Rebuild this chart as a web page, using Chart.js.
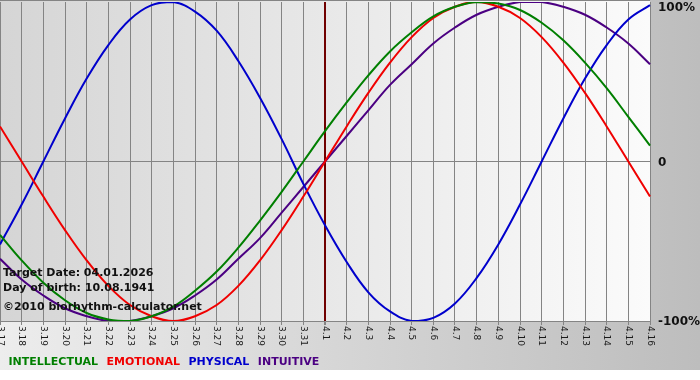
<!DOCTYPE html>
<html>
<head>
<meta charset="utf-8">
<title>Biorhythm</title>
<script src="https://cdn.jsdelivr.net/npm/chart.js"></script>
<style>
  html, body { margin: 0; padding: 0; background: #fff; }
  canvas { display: block; }
</style>
</head>
<body>
<canvas id="chart" width="700" height="380"></canvas>
<script>
const days = ["3.17", "3.18", "3.19", "3.20", "3.21", "3.22", "3.23", "3.24", "3.25", "3.26",
  "3.27", "3.28", "3.29", "3.30", "3.31", "4.1", "4.2", "4.3", "4.4", "4.5", "4.6", "4.7",
  "4.8", "4.9", "4.10", "4.11", "4.12", "4.13", "4.14", "4.15", "4.16"];

const intellectual = [-46, -62, -76, -87, -95, -99, -100, -97, -91, -81, -69, -54, -37, -19, 0,
  19, 37, 54, 69, 81, 91, 97, 100, 99, 95, 87, 76, 62, 46, 28, 10];
const emotional = [22, 0, -22, -43, -62, -78, -90, -97, -100, -97, -90, -78, -62, -43, -22,
  0, 22, 43, 62, 78, 90, 97, 100, 97, 90, 78, 62, 43, 22, 0, -22];
const physical = [-52, -27, 0, 27, 52, 73, 89, 98, 100, 94, 82, 63, 40, 14, -14,
  -40, -63, -82, -94, -100, -98, -89, -73, -52, -27, 0, 27, 52, 73, 89, 98];
const intuitive = [-61, -74, -84, -92, -97, -100, -100, -97, -92, -84, -74, -61, -48, -32, -16,
  0, 16, 32, 48, 61, 74, 84, 92, 97, 100, 100, 97, 92, 84, 74, 61];

const yTicks = [-100, 0, 100];
const yTickLabels = ["-100%", "0", "100%"];
const todayLabel = "4.1";
const targetDate = "04.01.2026";
const birthDate = "10.08.1941";

const font = "'DejaVu Sans', Verdana, sans-serif";
const gridGray = "#848484";

// backgrounds, rotated day labels, y labels and the corner texts
const decor = {
  id: "decor",
  beforeDraw(chart) {
    const { ctx, chartArea: a, width, height } = chart;
    ctx.save();
    ctx.fillStyle = "#fff";
    ctx.fillRect(0, 0, width, height);

    let g = ctx.createLinearGradient(0, 0, width, 0);
    g.addColorStop(0, "#ededed");
    g.addColorStop(1, "#bdbdbd");
    ctx.fillStyle = g;
    ctx.fillRect(0, 0, width, 370);

    g = ctx.createLinearGradient(a.left, 0, a.right, 0);
    g.addColorStop(0, "#d5d5d5");
    g.addColorStop(1, "#fbfbfb");
    ctx.fillStyle = g;
    ctx.fillRect(a.left, 0, a.right - a.left, a.bottom);

    ctx.strokeStyle = gridGray;
    ctx.beginPath();
    ctx.moveTo(a.left, 0.5);
    ctx.lineTo(a.right, 0.5);
    ctx.stroke();
    ctx.restore();
  },
  afterDraw(chart) {
    const { ctx, chartArea: a } = chart;
    const xs = chart.scales.x;
    const ys = chart.scales.y;
    ctx.save();

    ctx.font = "9px " + font;
    ctx.fillStyle = "#1a1a1a";
    ctx.textAlign = "left";
    ctx.textBaseline = "middle";
    days.forEach((d, i) => {
      ctx.save();
      ctx.translate(xs.getPixelForTick(i), xs.top + 5);
      ctx.rotate(Math.PI / 2);
      ctx.fillText(d, 0, 0);
      ctx.restore();
    });

    ctx.font = "bold 12px " + font;
    ctx.fillStyle = "#111";
    yTicks.forEach((v, i) => {
      const y = Math.max(ys.getPixelForValue(v), 7);
      ctx.fillText(yTickLabels[i], a.right + 8, y + 1);
    });

    ctx.font = "bold 11px " + font;
    ctx.textBaseline = "alphabetic";
    ctx.fillText("Target Date: " + targetDate, 3, 276);
    ctx.fillText("Day of birth: " + birthDate, 3, 291);
    ctx.fillText("\u00a92010 biorhythm-calculator.net", 3, 310);
    ctx.restore();
  }
};

function series(label, data, color) {
  return {
    label: label,
    data: data,
    borderColor: color,
    borderWidth: 2,
    pointRadius: 0,
    fill: false,
    tension: 0.4
  };
}

new Chart(document.getElementById("chart"), {
  type: "line",
  data: {
    labels: days,
    datasets: [
      series("INTELLECTUAL", intellectual, "#007f00"),
      series("EMOTIONAL", emotional, "#f00000"),
      series("PHYSICAL", physical, "#0000cc"),
      series("INTUITIVE", intuitive, "#4b0082")
    ]
  },
  options: {
    responsive: false,
    animation: false,
    devicePixelRatio: 1,
    layout: { padding: { top: 2, bottom: 2, left: 0, right: 0 } },
    scales: {
      x: {
        offset: false,
        grid: {
          color: c => days[c.index] === todayLabel ? "#700000" : gridGray,
          lineWidth: c => days[c.index] === todayLabel ? 2 : 1,
          tickLength: 4,
          tickColor: gridGray
        },
        border: { color: gridGray },
        ticks: { display: false, autoSkip: false },
        afterFit: s => { s.height = 33; }
      },
      y: {
        position: "right",
        min: -100,
        max: 100,
        afterBuildTicks: s => { s.ticks = yTicks.map(v => ({ value: v })); },
        grid: {
          color: c => (c.tick && c.tick.value === 0) ? gridGray : "rgba(0,0,0,0)",
          drawTicks: false
        },
        border: { display: false },
        ticks: { display: false },
        afterFit: s => { s.width = 50; }
      }
    },
    plugins: {
      tooltip: { enabled: false },
      legend: {
        position: "bottom",
        align: "start",
        labels: {
          boxWidth: 0,
          padding: 3,
          font: { family: font, size: 11, weight: "bold" },
          generateLabels: chart => chart.data.datasets.map((d, i) => ({
            text: d.label,
            fontColor: d.borderColor,
            fillStyle: "rgba(0,0,0,0)",
            strokeStyle: "rgba(0,0,0,0)",
            lineWidth: 0,
            hidden: false,
            datasetIndex: i
          }))
        }
      }
    }
  },
  plugins: [decor]
});
</script>
</body>
</html>
